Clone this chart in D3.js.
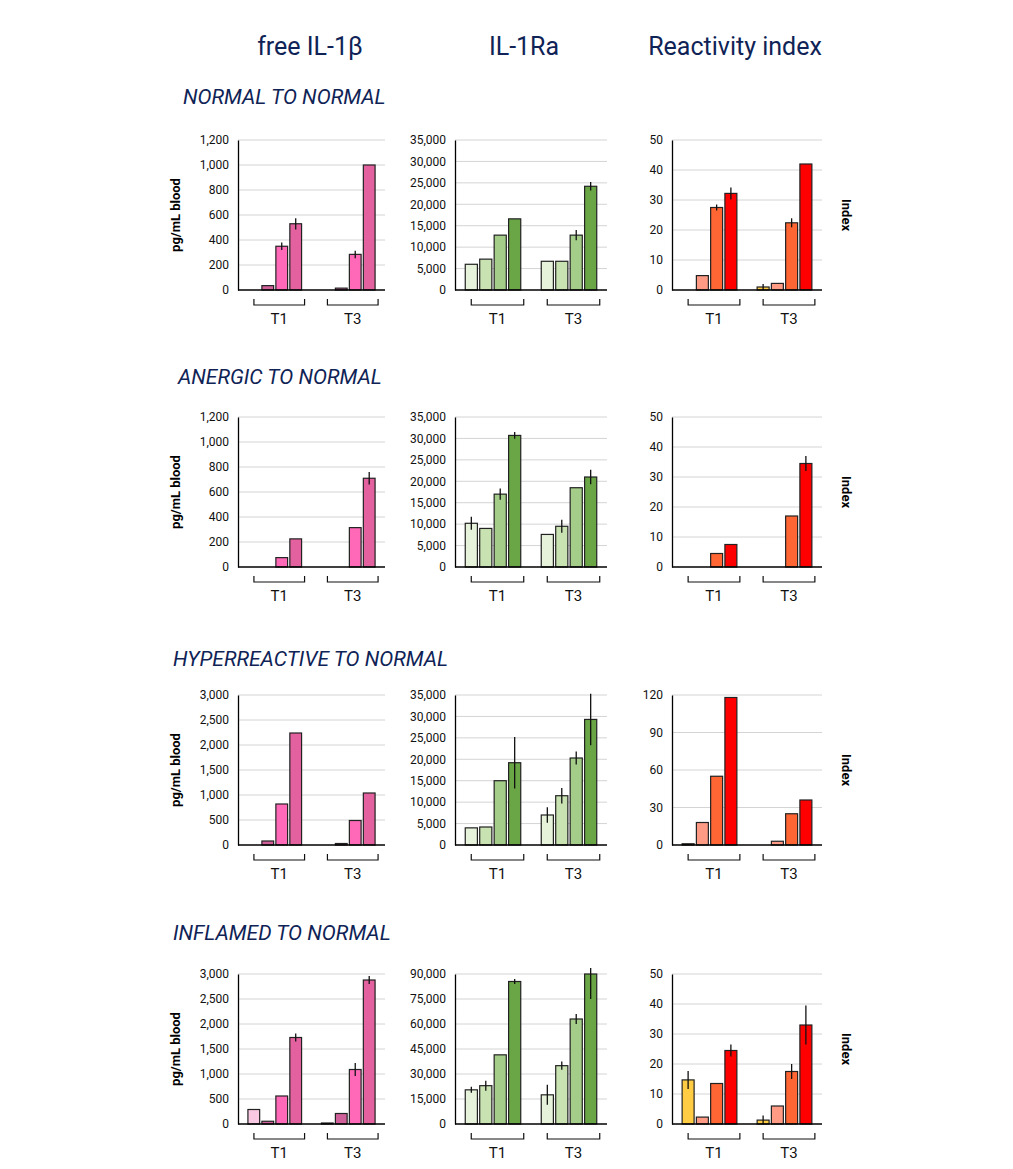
<!DOCTYPE html>
<html><head><meta charset="utf-8">
<script src="https://cdn.jsdelivr.net/npm/d3@7"></script>
<style>body{margin:0;background:#fff}svg{font-family:Roboto,sans-serif}</style>
</head><body>
<script>
// --- data ---
const columnTitles = ["free IL-1β", "IL-1Ra", "Reactivity index"];
const rowTitles = ["NORMAL TO NORMAL", "ANERGIC TO NORMAL", "HYPERREACTIVE TO NORMAL", "INFLAMED TO NORMAL"];
const times = ["T1", "T3"];

// values per panel: [T1 series1..4, T3 series1..4]
const il1bValues = [
  [0, 35, 350, 530, 0, 15, 285, 1000],
  [0, 0, 75, 225, 0, 0, 315, 710],
  [0, 80, 820, 2240, 0, 30, 490, 1040],
  [290, 55, 560, 1730, 20, 210, 1090, 2880]
];
const il1bErrors = [
  [0, 0, 30, 45, 0, 0, 30, 0],
  [0, 0, 0, 0, 0, 0, 0, 50],
  [0, 0, 0, 0, 0, 0, 0, 0],
  [0, 0, 0, 80, 0, 0, 130, 80]
];
const il1raValues = [
  [6000, 7200, 12800, 16600, 6700, 6700, 12800, 24200],
  [10200, 9000, 17000, 30700, 7600, 9500, 18500, 21000],
  [4000, 4200, 15000, 19200, 7000, 11500, 20300, 29300],
  [20500, 23000, 41500, 85500, 17500, 35000, 63000, 90000]
];
const il1raErrors = [
  [0, 0, 0, 0, 0, 0, 1200, 1000],
  [1500, 0, 1300, 800, 0, 1500, 0, 1700],
  [0, 0, 0, 6000, 1800, 1800, 1500, 6000],
  [1800, 3000, 0, 1500, 6000, 2500, 3000, 15000]
];
const riValues = [
  [0, 4.8, 27.5, 32.2, 1, 2.2, 22.4, 42],
  [0, 0, 4.5, 7.5, 0, 0, 17, 34.5],
  [1, 18, 55, 118, 0, 3, 25, 36],
  [14.7, 2.3, 13.5, 24.5, 1.3, 6, 17.5, 33]
];
const riErrors = [
  [0, 0, 1, 2, 1, 0, 1.5, 0],
  [0, 0, 0, 0, 0, 0, 0, 2.5],
  [0, 0, 0, 0, 0, 0, 0, 0],
  [3, 0, 0, 2, 1.5, 0, 2.5, 6.5]
];
// axis maxima and tick steps per row
const il1bAxis = [[1200, 200], [1200, 200], [3000, 500], [3000, 500]];
const il1raAxis = [[35000, 5000], [35000, 5000], [35000, 5000], [90000, 15000]];
const riAxis = [[50, 10], [50, 10], [120, 30], [50, 10]];

const il1bColors = ["#f9c8e2", "#d0609a", "#ff69b8", "#e4619f"];
const il1raColors = ["#e6f2da", "#c8e2b2", "#a3cd88", "#6aa646"];
const riColors = ["#ffcc44", "#ff9a85", "#ff6633", "#ff0000"];

const columns = [
  {values: il1bValues, errors: il1bErrors, axis: il1bAxis, colors: il1bColors, x0: 238, x1: 385},
  {values: il1raValues, errors: il1raErrors, axis: il1raAxis, colors: il1raColors, x0: 455, x1: 607},
  {values: riValues, errors: riErrors, axis: riAxis, colors: riColors, x0: 672, x1: 822}
];
const rowTops = [140, 417, 695, 974];
const rowTitleY = [96, 376, 658, 932];
const rowTitleX = [183, 178, 173, 173];
const plotH = 150;
const navy = "#0f2356";

const svg = d3.select("body").append("svg").attr("width", 1013).attr("height", 1169);

const colX = [310, 524, 735];
columnTitles.forEach((t, i) => svg.append("text").attr("x", colX[i]).attr("y", 55)
  .attr("text-anchor", "middle").attr("font-size", 25).attr("fill", navy).text(t));

rowTitles.forEach((t, r) => {
  svg.append("text").attr("x", rowTitleX[r]).attr("y", rowTitleY[r] + 8)
    .attr("font-size", 21).attr("font-style", "italic").attr("fill", navy).text(t);

  const top = rowTops[r], bottom = top + plotH;
  svg.append("text").attr("transform", `translate(180,${top + plotH / 2}) rotate(-90)`)
    .attr("text-anchor", "middle").attr("font-size", 13).attr("font-weight", "bold").text("pg/mL blood");
  svg.append("text").attr("transform", `translate(842,${top + plotH / 2}) rotate(90)`)
    .attr("text-anchor", "middle").attr("font-size", 13).attr("font-weight", "bold").text("Index");

  columns.forEach(col => {
    const [max, step] = col.axis[r];
    const y = d3.scaleLinear().domain([0, max]).range([bottom, top]);
    const g = svg.append("g");
    const ticks = d3.range(0, max + step / 2, step);

    g.selectAll("line.grid").data(ticks.filter(d => d > 0)).join("line")
      .attr("x1", col.x0).attr("x2", col.x1).attr("y1", d => y(d)).attr("y2", d => y(d))
      .attr("stroke", "#d4d4d4");
    g.append("g").attr("transform", `translate(${col.x0},0)`)
      .call(d3.axisLeft(y).tickValues(ticks).tickSize(0).tickPadding(9))
      .call(a => a.select(".domain").attr("stroke", "#000").attr("stroke-width", 1.3))
      .call(a => a.selectAll("text").attr("font-size", 12).attr("font-family", "Roboto").attr("fill", "#111"));

    const xo = d3.scaleBand().domain(times).range([col.x0, col.x1]).paddingInner(0.27).paddingOuter(0.135);
    const xi = d3.scaleBand().domain(d3.range(4)).range([0, xo.bandwidth()]).paddingInner(0.16);
    const bars = col.values[r].map((v, i) => ({v, e: col.errors[r][i], t: times[Math.floor(i / 4)], s: i % 4}));

    g.selectAll("rect").data(bars.filter(d => d.v > 0)).join("rect")
      .attr("x", d => xo(d.t) + xi(d.s)).attr("width", xi.bandwidth())
      .attr("y", d => y(d.v)).attr("height", d => bottom - y(d.v))
      .attr("fill", d => col.colors[d.s]).attr("stroke", "#222").attr("stroke-width", 1.2);

    g.selectAll("line.err").data(bars.filter(d => d.e > 0)).join("line")
      .attr("x1", d => xo(d.t) + xi(d.s) + xi.bandwidth() / 2)
      .attr("x2", d => xo(d.t) + xi(d.s) + xi.bandwidth() / 2)
      .attr("y1", d => y(d.v - d.e)).attr("y2", d => y(Math.min(d.v + d.e, max * 1.04)))
      .attr("stroke", "#111").attr("stroke-width", 1.3);

    g.append("line").attr("x1", col.x0).attr("x2", col.x1).attr("y1", bottom).attr("y2", bottom)
      .attr("stroke", "#000").attr("stroke-width", 1.5);

    times.forEach(t => {
      const a = xo(t) + 6, b = xo(t) + xo.bandwidth() + 3, by = bottom + 15;
      g.append("path").attr("d", `M${a},${by - 6}V${by}H${b}V${by - 6}`)
        .attr("fill", "none").attr("stroke", "#111").attr("stroke-width", 1.2);
      g.append("text").attr("x", (a + b) / 2).attr("y", by + 19).attr("text-anchor", "middle")
        .attr("font-size", 15).attr("fill", "#111").text(t);
    });
  });
});
</script>
</body></html>
